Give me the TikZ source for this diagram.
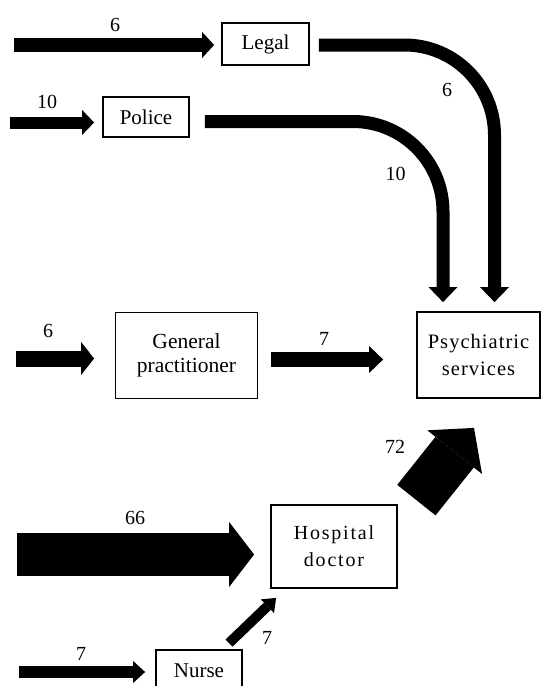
\documentclass[tikz,border=0pt]{standalone}
\usepackage{fontspec}
\setmainfont{Liberation Serif}
\newfontfamily\wideserif[LetterSpace=5]{Liberation Serif}
\newfontfamily\widerserif[LetterSpace=9]{Liberation Serif}
\usetikzlibrary{arrows.meta,calc}

\tikzset{
  box/.style={draw=black, line width=1.8pt, fill=white, inner sep=0pt,
    align=center, font=\fontsize{21}{25}\selectfont},
  num/.style={inner sep=0pt, font=\fontsize{20}{22}\selectfont},
  % block arrow: shaft width, head width, head length
  flowarrow/.style n args={3}{draw=black, line width=#1, line cap=butt,
    arrows={-{Triangle[width=#2,length=#3,line width=0pt]}}},
}

\begin{document}
\begin{tikzpicture}[x=1pt,y=-1pt]
\useasboundingbox (0,0) rectangle (543,686);

% agencies
\node[box, minimum width=87pt, minimum height=42pt] (legal) at (265.5,44) {Legal};
\node[box, minimum width=86pt, minimum height=40pt] (police) at (146,117) {Police};
\node[box, minimum width=142pt, minimum height=86pt,
      font=\fontsize{21.5}{24}\selectfont] (gp) at (186.5,355.5) {General\\practitioner};
\node[box, minimum width=123pt, minimum height=86pt,
      font=\wideserif\fontsize{20.5}{27}\selectfont] (psych) at (478.5,355) {Psychiatric\\services};
\node[box, minimum width=126pt, minimum height=83pt,
      font=\widerserif\fontsize{20}{27}\selectfont] (hosp) at (334,546.5) {Hospital\\doctor};
\node[box, minimum width=86pt, minimum height=42pt] (nurse) at (199,671) {Nurse};

% free ends of the incoming flows
\coordinate (legalin) at (14,45);
\coordinate (policein) at (10,122.5);
\coordinate (gpin) at (16,358.5);
\coordinate (hospin) at (17,554.5);
\coordinate (nursein) at (19,672);

% incoming flows
\draw[flowarrow={14pt}{26pt}{12pt}] (legalin) -- ($(legal.west)+(-7,1)$);
\draw[flowarrow={12pt}{25pt}{12pt}] (policein) -- ($(police.west)+(-8,5.5)$);
\draw[flowarrow={16pt}{33pt}{13pt}] (gpin) -- ($(gp.west)+(-20.5,3)$);
\draw[flowarrow={43pt}{65pt}{25pt}] (hospin) -- ($(hosp.west)+(-16,8)$);
\draw[flowarrow={12pt}{22pt}{12pt}] (nursein) -- ($(nurse.west)+(-10,1)$);

% referrals between agencies
\draw[flowarrow={15pt}{27pt}{14pt}] ($(gp.east)+(12.5,4)$) -- ($(psych.west)+(-33,4.5)$);
\draw[flowarrow={10pt}{19pt}{12pt}] ($(nurse.north)+(30,-6)$) -- ($(hosp.south west)+(6,9)$);
\draw[flowarrow={49pt}{70pt}{31pt}] ($(hosp.north east)+(18.5,-4)$) -- ($(psych.south)+(-4.5,29)$);
\draw[flowarrow={13pt}{29pt}{15pt}, rounded corners=90pt]
  ($(legal.east)+(9,1)$) -| ($(psych.north)+(16,-9)$);
\draw[flowarrow={13pt}{29pt}{15pt}, rounded corners=90pt]
  ($(police.east)+(15,4.5)$) -| ($(psych.north)+(-35.5,-9)$);

% flow counts
\node[num] (nlegalin) at (115,24.5) {6};
\node[num] (npolicein) at (47,101.5) {10};
\node[num] (nlegalout) at (447,90) {6};
\node[num] (npoliceout) at (395.5,173.5) {10};
\node[num] (ngpin) at (48,331) {6};
\node[num] (ngpout) at (324,338.5) {7};
\node[num] (nhospout) at (395,447) {72};
\node[num] (nhospin) at (135,517.5) {66};
\node[num] (nnurseout) at (267,637.5) {7};
\node[num] (nnursein) at (81,654) {7};
\end{tikzpicture}
\end{document}
